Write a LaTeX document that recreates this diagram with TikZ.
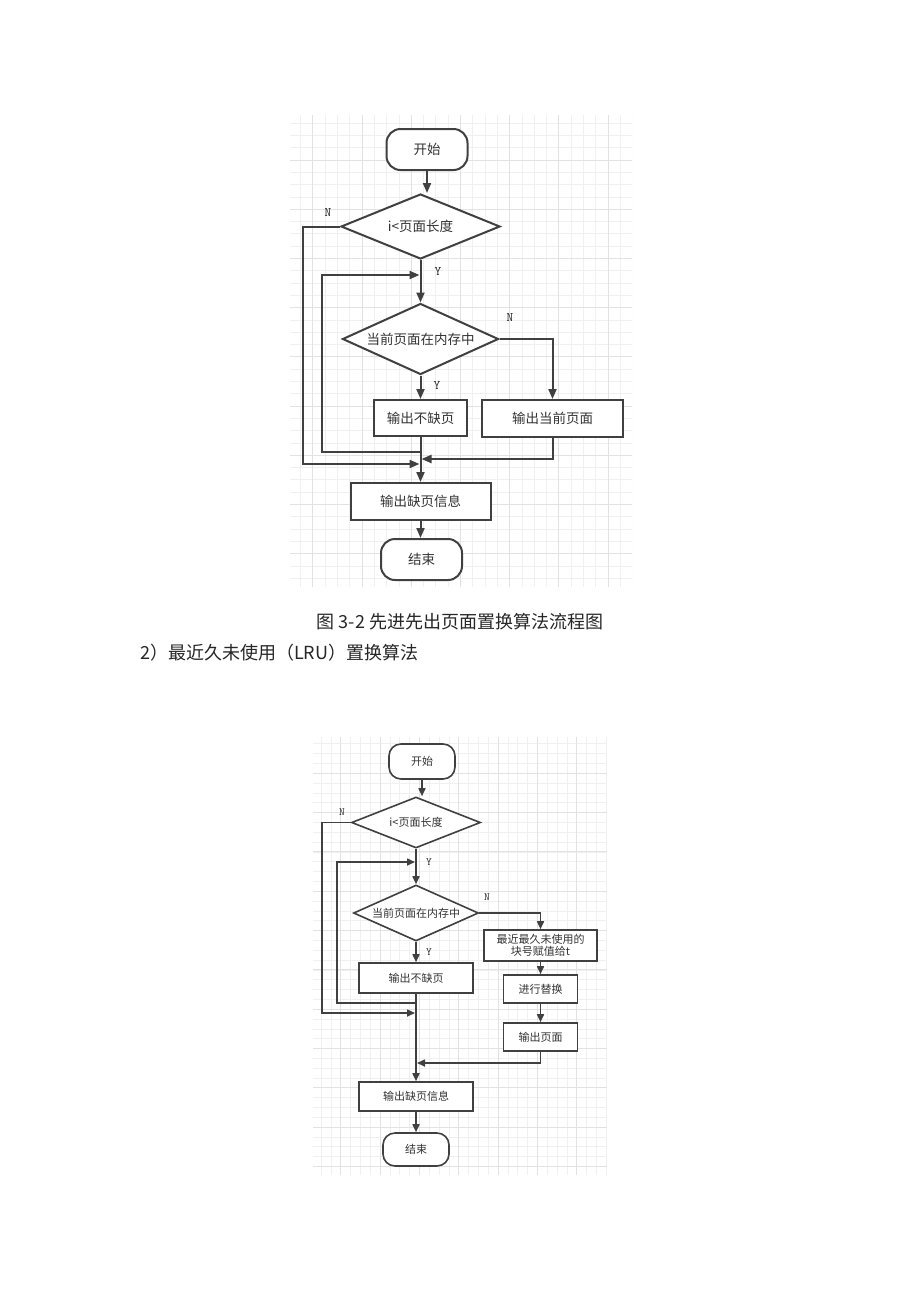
\documentclass[tikz,border=0pt]{standalone}
\usepackage{fontspec}
\setmainfont{Noto Sans CJK SC}
\usetikzlibrary{arrows.meta,shapes.geometric}
\definecolor{lineC}{HTML}{404040}
\definecolor{gridMin}{HTML}{F0F0F0}
\definecolor{gridMaj}{HTML}{E2E2E2}
\definecolor{capC}{HTML}{262626}
\tikzset{
  gminor/.style={draw=gridMin, line width=0.8pt},
  gmajor/.style={draw=gridMaj, line width=0.9pt},
  boxA/.style={draw=lineC, line width=2pt, fill=white, inner sep=0pt, font=\fontsize{13.5}{16}\selectfont, text=black!80},
  termA/.style={boxA, rounded corners=14pt},
  decA/.style={boxA, diamond},
  arrA/.style={draw=lineC, line width=2pt, -{Triangle[length=10pt,width=8pt]}},
  boxB/.style={draw=lineC, line width=1.6pt, fill=white, inner sep=0pt, font=\fontsize{11}{13}\selectfont, text=black!80},
  termB/.style={boxB, rounded corners=12pt},
  decB/.style={boxB, diamond},
  arrB/.style={draw=lineC, line width=1.6pt, -{Triangle[length=8pt,width=7pt]}},
  ynA/.style={font=\ttfamily\fontsize{13}{13}\selectfont, inner sep=0pt, text=black!85},
  ynB/.style={font=\ttfamily\fontsize{11}{11}\selectfont, inner sep=0pt, text=black!85},
  captxt/.style={font=\fontsize{18}{20}\selectfont, inner sep=0pt, text=capC}
}
\begin{document}
\begin{tikzpicture}[x=1pt,y=-1pt]
\useasboundingbox (0,0) rectangle (920,1302);
\fill[white] (0,0) rectangle (920,1302);

% ---------- grid 1 ----------
\begin{scope}
\clip (290,115) rectangle (632,587);
\foreach \i in {0,...,29} {\draw[gminor] (288.2+12.3*\i,115) -- (288.2+12.3*\i,587);}
\foreach \i in {0,...,39} {\draw[gminor] (290,110.8+12.3*\i) -- (632,110.8+12.3*\i);}
\foreach \i in {0,...,6} {\draw[gmajor] (312.8+49.2*\i,115) -- (312.8+49.2*\i,587);}
\foreach \i in {0,...,8} {\draw[gmajor] (290,160+49.2*\i) -- (632,160+49.2*\i);}
\end{scope}

% ---------- diagram 1 ----------
\node[termA, minimum width=81pt, minimum height=41pt] (s1) at (427,149.5) {开始};
\node[decA, aspect=2.45, minimum width=159pt, minimum height=65pt] (d1) at (420.5,226.5) {i<页面长度};
\node[decA, aspect=2.2, minimum width=156pt, minimum height=71pt] (d2) at (420.5,339) {当前页面在内存中};
\node[boxA, minimum width=93pt, minimum height=36pt] (b1) at (420.5,418) {输出不缺页};
\node[boxA, minimum width=141pt, minimum height=37pt] (b2) at (552.5,418.5) {输出当前页面};
\node[boxA, minimum width=140pt, minimum height=37pt] (b3) at (420.5,501.5) {输出缺页信息};
\node[termA, minimum width=81pt, minimum height=41pt] (e1) at (421.5,559.5) {结束};

\node[ynA] (n1) at (328,213) {N};
\node[ynA] (y1) at (438,272) {Y};
\node[ynA] (n2) at (510,318) {N};
\node[ynA] (y2) at (437,386) {Y};

\coordinate (oL1) at (303,464);
\coordinate (j1) at (420.5,464);
\coordinate (iS1) at (420.5,452);
\coordinate (iC1) at (322,275);
\coordinate (iE1) at (420.5,275);
\coordinate (j2) at (420.5,459);

\draw[arrA] (s1.south) -- (s1.south |- d1.north);
\draw[arrA] (d1.south) -- (d2.north);
\draw[arrA] (d2.south) -- (b1.north);
\draw[arrA] (d2.east) -| (b2.north);
\draw[arrA] (b1.south) -- (b3.north);
\draw[arrA] (b3.south) -- (b3.south |- e1.north);
\draw[arrA, shorten >=1pt] (d1.west) -| (oL1) -- (j1);
\draw[arrA, shorten >=1pt] (iS1) -| (iC1) -- (iE1);
\draw[arrA, shorten >=1pt] (b2.south) |- (j2);

% ---------- captions ----------
\node[captxt] (cap1) at (460,622) {图 3-2 先进先出页面置换算法流程图};
\node[captxt, anchor=west] (cap2) at (140,653) {2）最近久未使用（LRU）置换算法};

% ---------- grid 2 ----------
\begin{scope}
\clip (313,737) rectangle (607,1175);
\foreach \i in {0,...,31} {\draw[gminor] (301.5+9.83*\i,737) -- (301.5+9.83*\i,1175);}
\foreach \i in {0,...,46} {\draw[gminor] (313,734+9.83*\i) -- (607,734+9.83*\i);}
\foreach \i in {0,...,7} {\draw[gmajor] (301.5+39.3*\i,737) -- (301.5+39.3*\i,1175);}
\foreach \i in {0,...,11} {\draw[gmajor] (313,734+39.3*\i) -- (607,734+39.3*\i);}
\end{scope}

% ---------- diagram 2 ----------
\node[termB, minimum width=66pt, minimum height=35pt] (s2) at (422,761.5) {开始};
\node[decB, aspect=2.53, minimum width=129pt, minimum height=51pt] (d3) at (416,822.5) {i<页面长度};
\node[decB, aspect=2.23, minimum width=125pt, minimum height=56pt] (d4) at (416,913) {当前页面在内存中};
\node[boxB, minimum width=113pt, minimum height=31pt, align=center, font=\fontsize{11}{12}\selectfont] (b4) at (540.5,945.5) {最近最久未使用的\\块号赋值给t};
\node[boxB, minimum width=114pt, minimum height=30pt] (b5) at (416,978) {输出不缺页};
\node[boxB, minimum width=74pt, minimum height=28pt] (b6) at (540.5,989) {进行替换};
\node[boxB, minimum width=74pt, minimum height=28pt] (b7) at (540.5,1037) {输出页面};
\node[boxB, minimum width=114pt, minimum height=29pt] (b8) at (416,1096.5) {输出缺页信息};
\node[termB, minimum width=66pt, minimum height=33pt] (e2) at (416,1149.5) {结束};

\node[ynB] (n3) at (342,812) {N};
\node[ynB] (y3) at (429,862) {Y};
\node[ynB] (n4) at (487,897) {N};
\node[ynB] (y4) at (429,952) {Y};

\coordinate (oL2) at (322,1013);
\coordinate (j3) at (416,1013);
\coordinate (iS2) at (416,1003);
\coordinate (iC2) at (337,862);
\coordinate (iE2) at (416,862);
\coordinate (j4) at (416,1063);

\draw[arrB] (s2.south) -- (s2.south |- d3.north);
\draw[arrB] (d3.south) -- (d4.north);
\draw[arrB] (d4.south) -- (b5.north);
\draw[arrB] (d4.east) -| (b4.north);
\draw[arrB] (b4.south) -- (b6.north);
\draw[arrB] (b6.south) -- (b7.north);
\draw[arrB] (b5.south) -- (b8.north);
\draw[arrB] (b8.south) -- (e2.north);
\draw[arrB, shorten >=1pt] (d3.west) -| (oL2) -- (j3);
\draw[arrB, shorten >=1pt] (iS2) -| (iC2) -- (iE2);
\draw[arrB, shorten >=1pt] (b7.south) |- (j4);
\end{tikzpicture}
\end{document}
